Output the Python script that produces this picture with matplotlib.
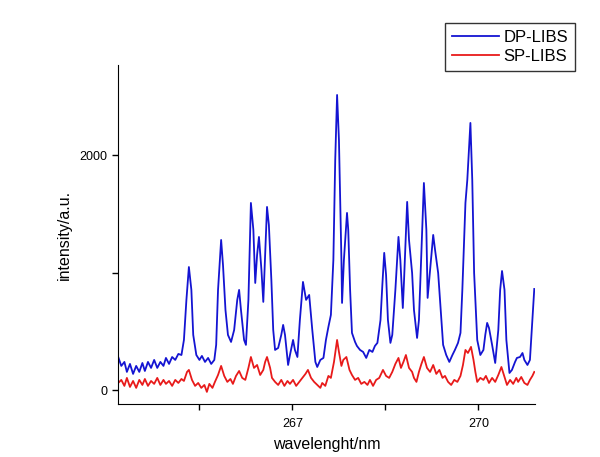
import matplotlib
matplotlib.use("Agg")
import matplotlib.pyplot as plt
from matplotlib.ticker import FixedLocator, NullFormatter

# DP-LIBS spectrum
dp_wl = [264.19, 264.24, 264.29, 264.33, 264.38, 264.43, 264.48, 264.53, 264.58, 264.62,
         264.67, 264.72, 264.77, 264.82, 264.87, 264.92, 264.96, 265.01, 265.06, 265.11,
         265.16, 265.21, 265.25, 265.29, 265.33, 265.37, 265.40, 265.45, 265.50, 265.54,
         265.59, 265.64, 265.69, 265.74, 265.77, 265.80, 265.85, 265.88, 265.92, 265.96,
         266.01, 266.06, 266.11, 266.14, 266.17, 266.22, 266.25, 266.29, 266.33, 266.37,
         266.40, 266.43, 266.46, 266.50, 266.53, 266.56, 266.59, 266.62, 266.66, 266.69,
         266.72, 266.77, 266.82, 266.85, 266.88, 266.93, 266.96, 267.01, 267.04, 267.08,
         267.12, 267.17, 267.22, 267.27, 267.32, 267.37, 267.40, 267.45, 267.50, 267.54,
         267.58, 267.62, 267.66, 267.69, 267.72, 267.75, 267.79, 267.80, 267.83, 267.88,
         267.90, 267.93, 267.96, 268.01, 268.04, 268.09, 268.14, 268.19, 268.24, 268.29,
         268.33, 268.37, 268.42, 268.45, 268.48, 268.51, 268.54, 268.58, 268.61, 268.66,
         268.71, 268.74, 268.78, 268.80, 268.85, 268.88, 268.93, 268.96, 269.01, 269.04,
         269.08, 269.12, 269.16, 269.18, 269.22, 269.27, 269.30, 269.35, 269.38, 269.43,
         269.48, 269.53, 269.58, 269.62, 269.67, 269.71, 269.74, 269.79, 269.82, 269.87,
         269.90, 269.93, 269.98, 270.03, 270.08, 270.11, 270.14, 270.17, 270.22, 270.27,
         270.32, 270.35, 270.38, 270.42, 270.45, 270.50, 270.54, 270.59, 270.62, 270.67,
         270.71, 270.74, 270.79, 270.83, 270.87, 270.90]
dp_int = [283, 207, 241, 156, 224, 139, 207, 156, 232, 164,
          241, 190, 258, 190, 241, 207, 275, 224, 283, 258,
          309, 300, 428, 769, 1049, 854, 471, 300, 258, 292,
          241, 275, 224, 258, 386, 854, 1279, 1066, 683, 471,
          411, 513, 769, 854, 683, 428, 386, 769, 1594, 1364,
          913, 1152, 1305, 1024, 752, 1152, 1560, 1407, 939, 513,
          343, 360, 471, 556, 471, 215, 300, 428, 343, 283,
          598, 922, 769, 811, 513, 241, 198, 258, 275, 428,
          539, 641, 1109, 1960, 2513, 2130, 1109, 743, 1109, 1509,
          1364, 854, 488, 411, 377, 343, 326, 275, 343, 326,
          377, 403, 598, 896, 1169, 981, 598, 403, 471, 854,
          1305, 1109, 700, 939, 1603, 1279, 998, 683, 445, 598,
          1194, 1764, 1364, 786, 1024, 1322, 1194, 998, 769, 386,
          300, 241, 300, 343, 403, 488, 854, 1594, 1790, 2275,
          1790, 998, 428, 300, 343, 471, 573, 530, 386, 232,
          513, 854, 1015, 854, 428, 147, 173, 241, 275, 283,
          317, 258, 215, 258, 598, 862]

# SP-LIBS spectrum
sp_wl = [264.19, 264.24, 264.29, 264.33, 264.38, 264.43, 264.48, 264.53, 264.58, 264.62,
         264.67, 264.72, 264.77, 264.82, 264.87, 264.92, 264.96, 265.01, 265.06, 265.11,
         265.16, 265.21, 265.25, 265.30, 265.33, 265.38, 265.43, 265.48, 265.53, 265.58,
         265.62, 265.66, 265.71, 265.75, 265.80, 265.85, 265.90, 265.95, 266.00, 266.04,
         266.09, 266.14, 266.19, 266.24, 266.29, 266.33, 266.38, 266.43, 266.48, 266.53,
         266.56, 266.59, 266.64, 266.67, 266.72, 266.77, 266.82, 266.87, 266.92, 266.96,
         267.01, 267.06, 267.11, 267.16, 267.21, 267.25, 267.30, 267.35, 267.40, 267.45,
         267.48, 267.53, 267.58, 267.62, 267.67, 267.72, 267.75, 267.79, 267.82, 267.87,
         267.92, 267.96, 268.01, 268.06, 268.11, 268.16, 268.21, 268.25, 268.30, 268.35,
         268.40, 268.43, 268.46, 268.51, 268.56, 268.61, 268.66, 268.71, 268.75, 268.79,
         268.83, 268.88, 268.93, 268.96, 269.00, 269.04, 269.08, 269.12, 269.17, 269.22,
         269.27, 269.32, 269.37, 269.42, 269.46, 269.51, 269.56, 269.61, 269.66, 269.71,
         269.75, 269.79, 269.83, 269.88, 269.92, 269.95, 269.98, 270.03, 270.08, 270.12,
         270.17, 270.22, 270.27, 270.32, 270.37, 270.42, 270.46, 270.51, 270.56, 270.61,
         270.64, 270.69, 270.74, 270.79, 270.83, 270.87, 270.90]
sp_int = [62, 88, 37, 105, 28, 79, 20, 88, 45, 96,
          37, 79, 54, 105, 45, 88, 54, 79, 37, 88,
          62, 96, 79, 156, 173, 88, 37, 62, 20, 45,
          -14, 54, 20, 71, 130, 207, 122, 71, 96, 54,
          122, 164, 105, 88, 190, 283, 190, 215, 130, 173,
          241, 283, 190, 105, 71, 45, 88, 37, 79, 54,
          88, 37, 71, 105, 139, 173, 105, 71, 45, 20,
          62, 37, 122, 105, 241, 428, 326, 207, 258, 283,
          173, 130, 88, 105, 54, 71, 45, 88, 37, 88,
          105, 139, 173, 122, 105, 156, 224, 275, 190, 241,
          300, 190, 156, 105, 71, 156, 224, 283, 190, 156,
          215, 139, 173, 105, 122, 71, 45, 88, 71, 122,
          215, 343, 317, 369, 258, 156, 71, 105, 88, 122,
          62, 105, 71, 130, 198, 113, 45, 88, 54, 105,
          71, 113, 62, 45, 88, 122, 156]

plt.rcParams['font.family'] = ['Liberation Sans', 'DejaVu Sans']

fig = plt.figure(figsize=(6, 4.57), dpi=100)
ax = fig.add_axes([0.197, 0.116, 0.695, 0.742])

ax.plot(dp_wl, dp_int, color="#1414d2", lw=1.3, label="DP-LIBS")
ax.plot(sp_wl, sp_int, color="#e81a1a", lw=1.3, label="SP-LIBS")

ax.set_xlim(264.19, 270.915)
ax.set_ylim(-117, 2769)

ax.spines["top"].set_visible(False)
ax.spines["right"].set_visible(False)

ax.xaxis.set_major_locator(FixedLocator([267, 270]))
ax.xaxis.set_minor_locator(FixedLocator([265.5, 268.5]))
ax.yaxis.set_major_locator(FixedLocator([0, 2000]))
ax.yaxis.set_minor_locator(FixedLocator([1000]))
ax.xaxis.set_minor_formatter(NullFormatter())
ax.yaxis.set_minor_formatter(NullFormatter())
ax.tick_params(which="both", direction="out", length=4, width=1, labelsize=9)
ax.tick_params(axis="x", which="major", pad=6)
ax.tick_params(axis="y", which="major", pad=4)

ax.set_xlabel("wavelenght/nm", fontsize=11.5, labelpad=5)
ax.set_ylabel("intensity/a.u.", fontsize=11.5, labelpad=5)

leg = ax.legend(loc="upper right", bbox_to_anchor=(575 / 600, 1 - 23 / 457),
                bbox_transform=fig.transFigure, fontsize=12, frameon=True,
                fancybox=False, handlelength=2.8, borderpad=0.4,
                labelspacing=0.25, handletextpad=0.3, borderaxespad=0)
leg.get_frame().set_edgecolor("black")
leg.get_frame().set_linewidth(1.0)

plt.savefig("out.png", dpi=100)
